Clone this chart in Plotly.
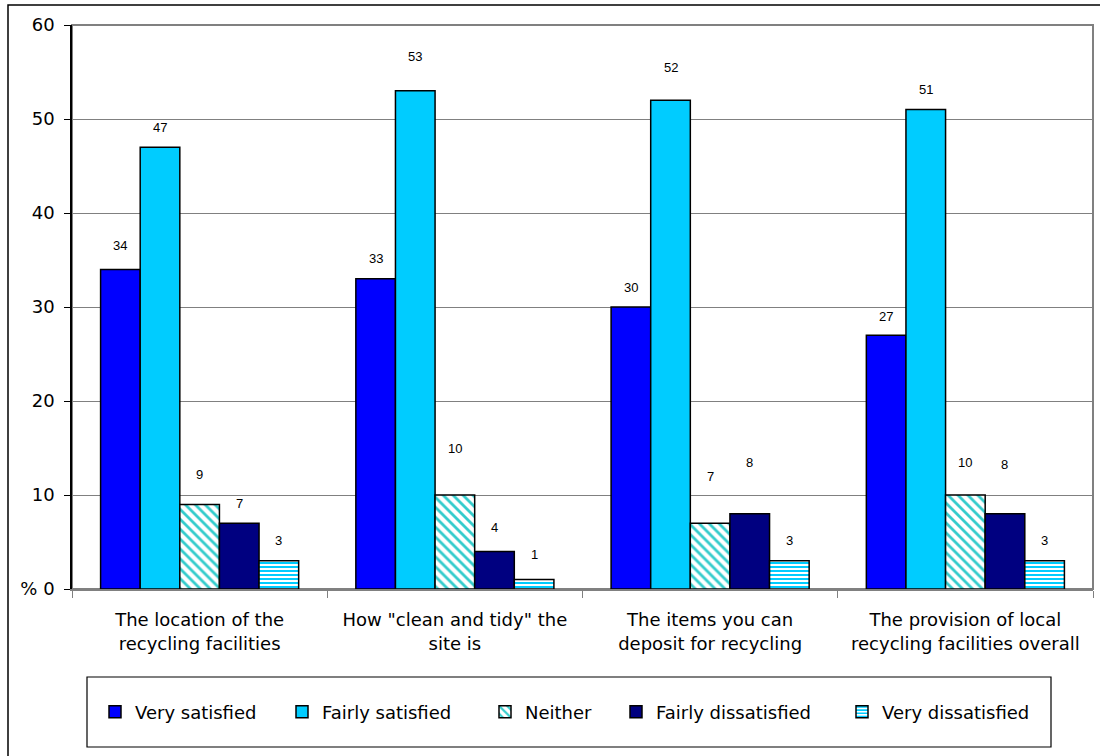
import plotly.graph_objects as go

# Satisfaction with local recycling facilities (% of respondents)
categories = [
    "The location of the<br>recycling facilities",
    "How \"clean and tidy\" the<br>site is",
    "The items you can<br>deposit for recycling",
    "The provision of local<br>recycling facilities overall",
]
series_names = ["Very satisfied", "Fairly satisfied", "Neither",
                "Fairly dissatisfied", "Very dissatisfied"]
very_satisfied = [34, 33, 30, 27]
fairly_satisfied = [47, 53, 52, 51]
neither = [9, 10, 7, 10]
fairly_dissatisfied = [7, 4, 8, 8]
very_dissatisfied = [3, 1, 3, 3]
y_ticks = [0, 10, 20, 30, 40, 50, 60]
y_tick_labels = ["% 0", "10", "20", "30", "40", "50", "60"]

series_values = [very_satisfied, fairly_satisfied, neither,
                 fairly_dissatisfied, very_dissatisfied]

# fill styles per series: (colour, pattern shape)
styles = [
    ("#0000FF", ""),
    ("#00CCFF", ""),
    ("#33CCCC", "\\"),
    ("#000080", ""),
    ("#00CCFF", "-"),
]

# how far (px) each value label sits above its bar, per series / category
label_lift = [
    [24, 20, 20, 19],
    [20, 34, 33, 20],
    [30, 47, 47, 33],
    [20, 24, 51, 49],
    [20, 25, 20, 20],
]

# horizontal pixel position of each legend swatch
legend_swatch_px = [116, 303, 506, 637, 863]

# figure geometry
W, H = 1100, 756
M_L, M_R, M_T, M_B = 72, 7, 25, 167
plot_w = W - M_L - M_R
plot_h = H - M_T - M_B
BARGAP = 0.224


def px_x(p):
    return (p - M_L) / plot_w


def px_y(p):
    return (H - M_B - p) / plot_h


fig = go.Figure()
legend_layouts = {}
for k, (name, vals, (col, shape)) in enumerate(zip(series_names, series_values, styles)):
    if shape:
        marker = dict(
            color="white",
            pattern=dict(shape=shape, fgcolor=col, bgcolor="white",
                         size=7 if shape == "\\" else 4,
                         solidity=0.4 if shape == "\\" else 0.5,
                         fillmode="replace"),
            line=dict(color="black", width=1.5),
        )
    else:
        marker = dict(color=col, line=dict(color="black", width=1.5))
    legend_id = "legend" if k == 0 else f"legend{k + 1}"
    fig.add_trace(go.Bar(name=name, x=categories, y=vals, marker=marker,
                         legend=legend_id))
    legend_layouts[legend_id] = dict(
        orientation="h", x=px_x(legend_swatch_px[k] - 21), xanchor="left",
        y=px_y(712), yanchor="middle",
        font=dict(family="DejaVu Sans", size=18, color="black"),
        bgcolor="rgba(0,0,0,0)", borderwidth=0,
    )

# value labels above each bar
n_series = len(series_names)
bar_px = plot_w / len(categories) * (1 - BARGAP) / n_series
annotations = []
for k, vals in enumerate(series_values):
    for j, (cat, v) in enumerate(zip(categories, vals)):
        annotations.append(dict(
            x=cat, y=v, xref="x", yref="y", text=str(v), showarrow=False,
            xshift=(k - (n_series - 1) / 2) * bar_px, yshift=label_lift[k][j],
            font=dict(family="Liberation Sans, Arial", size=13, color="black"),
        ))

shapes = [
    # plot area frame
    dict(type="rect", xref="paper", yref="paper", x0=0, x1=1, y0=0, y1=1,
         line=dict(color="#808080", width=2), layer="below"),
    # outer chart frame
    dict(type="rect", xref="paper", yref="paper",
         x0=px_x(8), x1=px_x(1110), y0=px_y(770), y1=px_y(5),
         line=dict(color="black", width=1.5), layer="below"),
    # legend box
    dict(type="rect", xref="paper", yref="paper",
         x0=px_x(87), x1=px_x(1051), y0=px_y(747), y1=px_y(677),
         line=dict(color="black", width=1.2), layer="below"),
]

fig.update_layout(
    width=W, height=H,
    margin=dict(l=M_L, r=M_R, t=M_T, b=M_B),
    paper_bgcolor="white", plot_bgcolor="white",
    barmode="group", bargap=BARGAP, bargroupgap=0,
    font=dict(family="DejaVu Sans", size=16, color="black"),
    showlegend=True,
    annotations=annotations,
    shapes=shapes,
    **legend_layouts,
)
fig.update_xaxes(
    type="category", showline=True, linecolor="#808080", linewidth=1.5,
    ticks="outside", tickson="boundaries", ticklen=7, tickcolor="#808080",
    showgrid=False, ticklabelstandoff=14,
    tickfont=dict(family="DejaVu Sans", size=18, color="black"),
)
fig.update_yaxes(
    range=[0, 60], tickvals=y_ticks, ticktext=y_tick_labels,
    showline=True, linecolor="black", linewidth=1.5,
    ticks="outside", ticklen=6, tickcolor="black",
    showgrid=True, gridcolor="#808080", gridwidth=1,
    zeroline=False, ticklabelstandoff=6,
    tickfont=dict(family="DejaVu Sans", size=18, color="black"),
)

fig.write_html("out.html")
